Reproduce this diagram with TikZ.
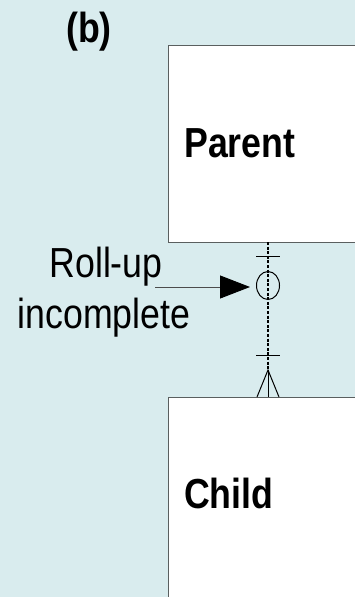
\documentclass[tikz,border=0pt]{standalone}
\usepackage{fontspec}
\setmainfont{Liberation Sans}
\newfontfamily\narrowsans[FakeStretch=0.85]{Liberation Sans}
\usetikzlibrary{arrows.meta,shapes.geometric}
\definecolor{bgpanel}{RGB}{217,236,238}
\definecolor{boxedge}{RGB}{90,95,95}
\tikzset{
  entity/.style={draw=boxedge, line width=1.4pt, fill=white, inner sep=0pt,
                 anchor=north west, minimum width=210pt},
  entitytext/.style={font=\narrowsans\bfseries\fontsize{42}{50}\selectfont,
                 anchor=base west, inner sep=0pt},
  notetext/.style={font=\narrowsans\fontsize{42}{50}\selectfont,
                 anchor=base, inner sep=0pt},
  rel/.style={line width=1.1pt, dash pattern=on 3pt off 1.6pt},
  mark line/.style={line width=1pt},
  pointer/.style={draw=black!70, line width=0.9pt,
                  -{Triangle[length=30pt,width=23pt,color=black,fill=black]},
                  shorten >=6pt}
}
\begin{document}
\begin{tikzpicture}[x=1pt,y=-1pt]
  \useasboundingbox (0,0) rectangle (355,597);
  \clip (0,0) rectangle (355,597);
  \fill[bgpanel] (0,0) rectangle (355,597);

  % panel label
  \node[font=\narrowsans\bfseries\fontsize{42}{50}\selectfont, anchor=base, inner sep=0pt]
    (panel) at (89,42) {(b)};

  % entities
  \node[entity, minimum height=197pt] (parent) at (168,45) {};
  \node[entity, minimum height=220pt] (child) at (168,397) {};
  \node[entitytext] (parenttxt) at (184,157) {Parent};
  \node[entitytext] (childtxt) at (184,508) {Child};

  % relationship end points on the entity edges
  \coordinate (top) at (268,242);
  \coordinate (bot) at (268,397);
  \coordinate (tickA) at (268,256);
  \coordinate (tickB) at (268,355);
  \coordinate (apex) at (268,370);

  % optional relationship line
  \draw[rel] (top) -- (apex);
  \draw[mark line] ([xshift=-12pt]tickA) -- ([xshift=12pt]tickA);
  \node[draw, ellipse, line width=1pt, minimum width=23pt, minimum height=28pt,
        inner sep=0pt] (opt) at (268,285.5) {};
  \draw[mark line] ([xshift=-12pt]tickB) -- ([xshift=12pt]tickB);

  % crow's foot at the child end
  \draw[mark line] ([xshift=-11pt]bot) -- (apex) -- ([xshift=11pt]bot);
  \draw[mark line] (apex) -- (bot);

  % annotation
  \node[notetext] (rollup) at (106,277) {Roll-up};
  \node[notetext] (incomplete) at (104,328) {incomplete};
  \coordinate (notept) at (155,287);
  \draw[pointer] (notept) -- (notept -| opt.west);
\end{tikzpicture}
\end{document}
